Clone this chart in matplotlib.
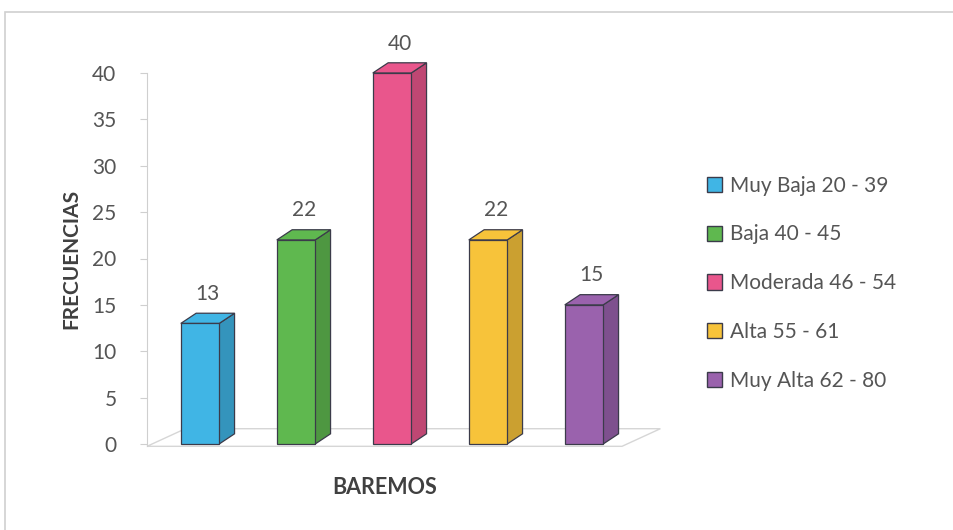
import matplotlib.pyplot as plt
from matplotlib.patches import Polygon, Rectangle, Patch
import matplotlib.colors as mcolors
import numpy as np

# datos
categorias = ['Muy Baja 20 - 39', 'Baja 40 - 45', 'Moderada 46 - 54', 'Alta 55 - 61', 'Muy Alta 62 - 80']
frecuencias = [13, 22, 40, 22, 15]
colores = ['#40b5e5', '#5fb84f', '#e9568c', '#f7c33a', '#9a62ad']

plt.rcParams['font.family'] = ['Lato', 'DejaVu Sans']
texto = '#555555'

fig = plt.figure(figsize=(9.54, 5.30), dpi=100)
fig.patch.set_facecolor('white')

# marco del grafico
fig.patches.append(Rectangle((5 / 954, -0.05), 1.1, 1 - 12 / 530 + 0.05, transform=fig.transFigure,
                             fill=False, edgecolor='#d0d0d0', linewidth=1.2))

W, H = 954, 530
x0, x1 = 147, 622
y0, ytop = 444, 73
ax = fig.add_axes([x0 / W, (H - y0) / H, (x1 - x0) / W, (y0 - ytop) / H])
ax.set_xlim(-0.552, 4.396)
ax.set_ylim(0, 40)

ancho = 0.4
dx, dy = 0.16, 1.1     # profundidad de las barras
fdx, fdy = 0.40, 1.9   # profundidad del piso

# piso
piso = Polygon([(-0.552, -0.25), (4.396, -0.25), (4.396 + fdx, -0.25 + fdy), (-0.552 + fdx, -0.25 + fdy)],
               closed=True, facecolor='white', edgecolor='#d6d6d6', linewidth=1.0, clip_on=False, zorder=1)
ax.add_patch(piso)

x = np.arange(len(frecuencias))
borde = '#3b3b4a'
for xi, v, c in zip(x, frecuencias, colores):
    izq, der = xi - ancho / 2, xi + ancho / 2
    lado = mcolors.to_rgb(c)
    lado = tuple(0.82 * k for k in lado)
    ax.add_patch(Polygon([(der, 0), (der + dx, dy), (der + dx, v + dy), (der, v)], closed=True,
                         facecolor=lado, edgecolor=borde, linewidth=0.9, clip_on=False, zorder=3))
    ax.add_patch(Polygon([(izq, v), (der, v), (der + dx, v + dy), (izq + dx, v + dy)], closed=True,
                         facecolor=c, edgecolor=borde, linewidth=0.9, clip_on=False, zorder=3))
    ax.bar(xi, v, width=ancho, color=c, edgecolor=borde, linewidth=0.9, clip_on=False, zorder=4)
    ax.text(xi + dx / 2, v + dy + 1.0, str(v), ha='center', va='bottom', fontsize=15, color=texto)

for s in ['top', 'right', 'bottom']:
    ax.spines[s].set_visible(False)
ax.spines['left'].set_color('#cfcfcf')
ax.spines['left'].set_bounds(-0.2, 40)
ax.patch.set_alpha(0)
ax.set_xticks([])
ax.set_yticks(range(0, 41, 5))
ax.tick_params(axis='y', colors='#cfcfcf', length=5, labelcolor=texto, labelsize=15, pad=17)

ax.set_ylabel('FRECUENCIAS', fontsize=15, fontweight='bold', color='#404040', labelpad=8)
ax.set_xlabel('BAREMOS', fontsize=15.5, fontweight='bold', color='#404040', labelpad=24)

manijas = [Patch(facecolor=c, edgecolor=borde, linewidth=1.0) for c in colores]
fig.legend(manijas, categorias, loc='upper left', bbox_to_anchor=(688 / W, 1 - 157 / H),
           frameon=False, fontsize=15, labelcolor=texto, handlelength=0.75, handleheight=0.75,
           handletextpad=0.35, labelspacing=1.38)

fig.savefig('out.png', dpi=100)
